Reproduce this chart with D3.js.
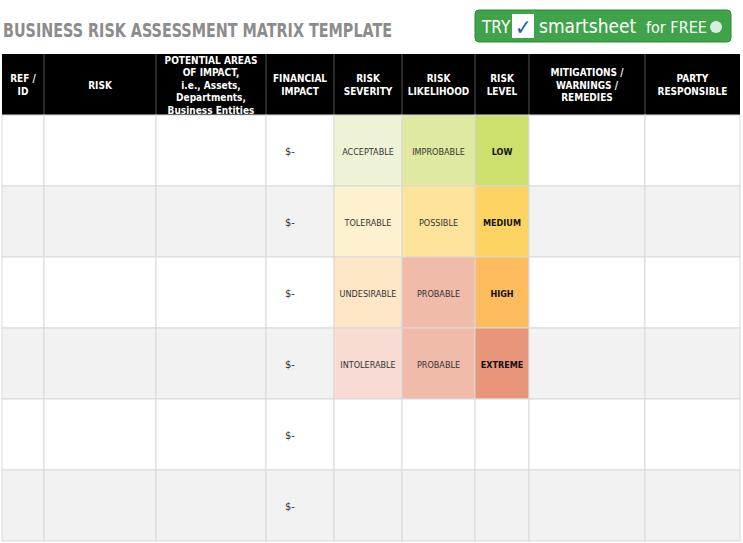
<!DOCTYPE html>
<html><head><meta charset="utf-8">
<script src="https://cdn.jsdelivr.net/npm/d3@7"></script>
<style>body{margin:0;background:#fff}text{font-family:"Liberation Sans Narrow","DejaVu Sans Condensed",sans-serif}</style>
</head><body>
<script>
var headers = [["REF /","ID"],["RISK"],["POTENTIAL AREAS","OF IMPACT,","i.e., Assets,","Departments,","Business Entities"],["FINANCIAL","IMPACT"],["RISK","SEVERITY"],["RISK","LIKELIHOOD"],["RISK","LEVEL"],["MITIGATIONS /","WARNINGS /","REMEDIES"],["PARTY","RESPONSIBLE"]]
var colEdges = [2, 44, 156, 266, 334, 402, 475, 529, 645, 740]
var financial = ["$-","$-","$-","$-","$-","$-"]
var severity = ["ACCEPTABLE","TOLERABLE","UNDESIRABLE","INTOLERABLE","",""]
var likelihood = ["IMPROBABLE","POSSIBLE","PROBABLE","PROBABLE","",""]
var level = ["LOW","MEDIUM","HIGH","EXTREME","",""]
var sevColors = ["#eef3d5","#fef1cf","#fde7c6","#f8dbd2"]
var likeColors = ["#dfe9a0","#fde49a","#f0bba8","#f0bba8"]
var levelColors = ["#cddf6c","#fdd462","#fdbc5e","#e9957a"]

var svg = d3.select("body").append("svg").attr("width",743).attr("height",543)
var x = d3.scaleOrdinal().domain(d3.range(9)).range(colEdges.slice(0,9))
var w = function(i){ return colEdges[i+1]-colEdges[i] }
var y = d3.scaleBand().domain(d3.range(6)).range([115,541])

svg.append("text").attr("x",3).attr("y",37).attr("font-size",19).attr("font-weight","bold")
  .attr("fill","#8c8c8c").attr("textLength",389).attr("lengthAdjust","spacingAndGlyphs")
  .text("BUSINESS RISK ASSESSMENT MATRIX TEMPLATE")

// button
var b = svg.append("g")
b.append("rect").attr("x",475).attr("y",10).attr("width",256).attr("height",32).attr("rx",4).attr("fill","#3fa34a").attr("stroke","#2d8a3a")
b.append("text").attr("x",482).attr("y",33).attr("font-size",17).attr("fill","#fff").text("TRY")
b.append("rect").attr("x",512).attr("y",14).attr("width",22).attr("height",24).attr("fill","#fff")
b.append("text").attr("x",515).attr("y",35).attr("font-size",22).attr("fill","#1a5fa8").text("✓")
b.append("text").attr("x",539).attr("y",33).attr("font-size",19).attr("fill","#fff").text("smartsheet")
b.append("text").attr("x",646).attr("y",33).attr("font-size",16).attr("fill","#fff").text("for FREE")
b.append("circle").attr("cx",716).attr("cy",27).attr("r",6).attr("fill","#fff").attr("opacity",0.8)

// header
svg.append("rect").attr("x",2).attr("y",54).attr("width",738).attr("height",61).attr("fill","#000")
headers.forEach(function(h,i){
  var t = svg.append("text").attr("x",x(i)+w(i)/2).attr("text-anchor","middle")
    .attr("font-size",10).attr("font-weight","bold").attr("fill","#fff")
  var y0 = 84.5 - (h.length-1)*12.5/2 + 4
  h.forEach(function(l,k){ t.append("tspan").attr("x",x(i)+w(i)/2).attr("y",y0+k*12.5).text(l) })
})
d3.range(1,9).forEach(function(i){
  svg.append("line").attr("x1",x(i)).attr("x2",x(i)).attr("y1",54).attr("y2",115).attr("stroke","#555")
})

// rows
d3.range(6).forEach(function(r){
  var g = svg.append("g")
  var cols = [null,null,null,null,sevColors[r],likeColors[r],levelColors[r],null,null]
  cols.forEach(function(c,i){
    g.append("rect").attr("x",x(i)).attr("y",y(r)).attr("width",w(i)).attr("height",y.bandwidth())
      .attr("fill", c || (r%2 ? "#f2f2f2" : "#fff")).attr("stroke","#d9d9d9")
  })
  var cy = y(r)+y.bandwidth()/2+4
  g.append("text").attr("x",x(3)+19).attr("y",cy).attr("font-size",11).attr("fill","#333").text(financial[r])
  g.append("text").attr("x",x(4)+w(4)/2).attr("y",cy).attr("text-anchor","middle").attr("font-size",9).attr("fill","#333").text(severity[r])
  g.append("text").attr("x",x(5)+w(5)/2).attr("y",cy).attr("text-anchor","middle").attr("font-size",9).attr("fill","#333").text(likelihood[r])
  g.append("text").attr("x",x(6)+w(6)/2).attr("y",cy).attr("text-anchor","middle").attr("font-size",9).attr("font-weight","bold").attr("fill","#111").text(level[r])
})
</script>
</body></html>
